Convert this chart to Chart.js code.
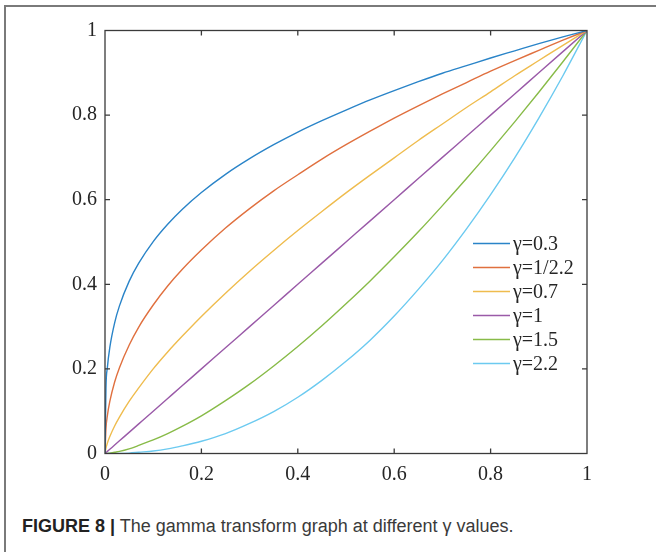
<!DOCTYPE html>
<html>
<head>
<meta charset="utf-8">
<script src="https://cdn.jsdelivr.net/npm/chart.js@4.4.1/dist/chart.umd.min.js"></script>
<style>
  html, body { margin: 0; padding: 0; background: #fff; }
  #wrap { position: relative; width: 656px; height: 552px; overflow: hidden; background: #fff; }
  #frame { position: absolute; left: 4px; top: 5px; width: 700px; height: 600px;
           border-left: 2px solid #7a7a7a; border-top: 2px solid #7a7a7a; }
  #cv { position: absolute; left: 0; top: 0; }
  #caption { position: absolute; left: 22px; top: 516px; white-space: nowrap;
             font-family: "Liberation Sans Narrow", "Arial Narrow", "Liberation Sans", sans-serif;
             font-size: 18px; color: #3a3a3a; }
  #caption b { color: #222; }
</style>
</head>
<body>
<div id="wrap">
  <div id="frame"></div>
  <canvas id="cv" width="656" height="500"></canvas>
  <div id="caption"><b>FIGURE 8 |</b> The gamma transform graph at different γ values.</div>
</div>
<script>
// ---- data ----
const xValues = [0, 0.002, 0.005, 0.01, 0.02, 0.03, 0.05, 0.07, 0.1, 0.13, 0.16, 0.2, 0.25, 0.3, 0.35, 0.4, 0.45, 0.5, 0.55, 0.6, 0.65, 0.7, 0.75, 0.8, 0.85, 0.9, 0.95, 1];
const seriesLabels = ['γ=0.3', 'γ=1/2.2', 'γ=0.7', 'γ=1', 'γ=1.5', 'γ=2.2'];
const gamma03  = [0, 0.155, 0.204, 0.251, 0.309, 0.349, 0.407, 0.450, 0.501, 0.542, 0.577, 0.617, 0.660, 0.697, 0.730, 0.760, 0.787, 0.812, 0.836, 0.858, 0.879, 0.899, 0.917, 0.935, 0.952, 0.969, 0.985, 1];
const gamma045 = [0, 0.059, 0.090, 0.123, 0.169, 0.203, 0.256, 0.299, 0.351, 0.396, 0.435, 0.481, 0.533, 0.579, 0.621, 0.659, 0.696, 0.730, 0.762, 0.793, 0.822, 0.850, 0.877, 0.904, 0.929, 0.953, 0.977, 1];
const gamma07  = [0, 0.013, 0.025, 0.040, 0.065, 0.086, 0.123, 0.155, 0.200, 0.240, 0.277, 0.324, 0.379, 0.431, 0.480, 0.527, 0.572, 0.616, 0.658, 0.699, 0.740, 0.779, 0.818, 0.855, 0.893, 0.929, 0.965, 1];
const gamma10  = [0, 0.002, 0.005, 0.010, 0.020, 0.030, 0.050, 0.070, 0.100, 0.130, 0.160, 0.200, 0.250, 0.300, 0.350, 0.400, 0.450, 0.500, 0.550, 0.600, 0.650, 0.700, 0.750, 0.800, 0.850, 0.900, 0.950, 1];
const gamma15  = [0, 0.000, 0.000, 0.001, 0.003, 0.005, 0.011, 0.019, 0.032, 0.047, 0.064, 0.089, 0.125, 0.164, 0.207, 0.253, 0.302, 0.354, 0.408, 0.465, 0.524, 0.586, 0.650, 0.716, 0.784, 0.854, 0.926, 1];
const gamma22  = [0, 0.000, 0.000, 0.000, 0.000, 0.000, 0.001, 0.003, 0.006, 0.011, 0.018, 0.029, 0.047, 0.071, 0.099, 0.133, 0.173, 0.218, 0.268, 0.325, 0.388, 0.456, 0.531, 0.612, 0.699, 0.793, 0.893, 1];
const xTickLabels = ['0', '0.2', '0.4', '0.6', '0.8', '1'];
const yTickLabels = ['0', '0.2', '0.4', '0.6', '0.8', '1'];
const tickValues = [0, 0.2, 0.4, 0.6, 0.8, 1];

// ---- styles ----
const colors = ['#2a84c8', '#e0703f', '#efbc4e', '#9a5aa8', '#88bb48', '#6ccaf0'];
const axisColor = '#3a3a3a';
const serif = '"Liberation Serif", "Times New Roman", serif';

const allSeries = [gamma03, gamma045, gamma07, gamma10, gamma15, gamma22];
const datasets = allSeries.map((ys, i) => ({
  label: seriesLabels[i],
  data: xValues.map((x, k) => ({ x: x, y: ys[k] })),
  borderColor: colors[i],
  backgroundColor: colors[i],
  borderWidth: 1.4,
  pointRadius: 0,
  fill: false,
  tension: 0,
  cubicInterpolationMode: 'monotone'
}));

const PLOT = { left: 105, right: 587, top: 30.5, bottom: 453.5 };

const boxAndTicks = {
  id: 'boxAndTicks',
  afterDatasetsDraw(chart) {
    const { ctx, chartArea: a, scales } = chart;
    ctx.save();
    ctx.strokeStyle = axisColor;
    ctx.lineWidth = 1.3;
    ctx.strokeRect(a.left, a.top, a.right - a.left, a.bottom - a.top);
    const tl = 5;
    ctx.beginPath();
    tickValues.forEach(v => {
      const px = scales.x.getPixelForValue(v);
      const py = scales.y.getPixelForValue(v);
      if (v > 0 && v < 1) {
        ctx.moveTo(px, a.bottom); ctx.lineTo(px, a.bottom - tl);
        ctx.moveTo(px, a.top); ctx.lineTo(px, a.top + tl);
        ctx.moveTo(a.left, py); ctx.lineTo(a.left + tl, py);
        ctx.moveTo(a.right, py); ctx.lineTo(a.right - tl, py);
      }
    });
    ctx.stroke();

    // legend
    const lx0 = 473, lx1 = 510, tx = 513, y0 = 243.5, dy = 24;
    ctx.font = '20px ' + serif;
    ctx.textBaseline = 'middle';
    ctx.textAlign = 'left';
    chart.data.datasets.forEach((ds, i) => {
      const y = y0 + i * dy;
      ctx.strokeStyle = ds.borderColor;
      ctx.lineWidth = 1.4;
      ctx.beginPath(); ctx.moveTo(lx0, y); ctx.lineTo(lx1, y); ctx.stroke();
      ctx.fillStyle = '#262626';
      ctx.fillText(ds.label, tx, y + 1);
    });
    ctx.restore();
  }
};

new Chart(document.getElementById('cv'), {
  type: 'line',
  data: { datasets },
  options: {
    responsive: false,
    animation: false,
    parsing: true,
    layout: { padding: { left: 0, top: PLOT.top, right: 656 - PLOT.right, bottom: 0 } },
    plugins: { legend: { display: false }, tooltip: { enabled: false } },
    scales: {
      x: {
        type: 'linear', min: 0, max: 1,
        afterBuildTicks(s) { s.ticks = tickValues.map(v => ({ value: v })); },
        afterFit(s) { s.height = 500 - PLOT.bottom; },
        grid: { display: false, drawTicks: false },
        border: { display: false },
        ticks: {
          color: '#262626', font: { family: serif, size: 20 }, padding: 9,
          maxRotation: 0, autoSkip: false,
          callback: (v, i) => xTickLabels[i]
        }
      },
      y: {
        type: 'linear', min: 0, max: 1,
        afterBuildTicks(s) { s.ticks = tickValues.map(v => ({ value: v })); },
        afterFit(s) { s.width = PLOT.left; },
        grid: { display: false, drawTicks: false },
        border: { display: false },
        ticks: {
          color: '#262626', font: { family: serif, size: 20 }, padding: 8,
          autoSkip: false,
          callback: (v, i) => yTickLabels[i]
        }
      }
    }
  },
  plugins: [boxAndTicks]
});
</script>
</body>
</html>
